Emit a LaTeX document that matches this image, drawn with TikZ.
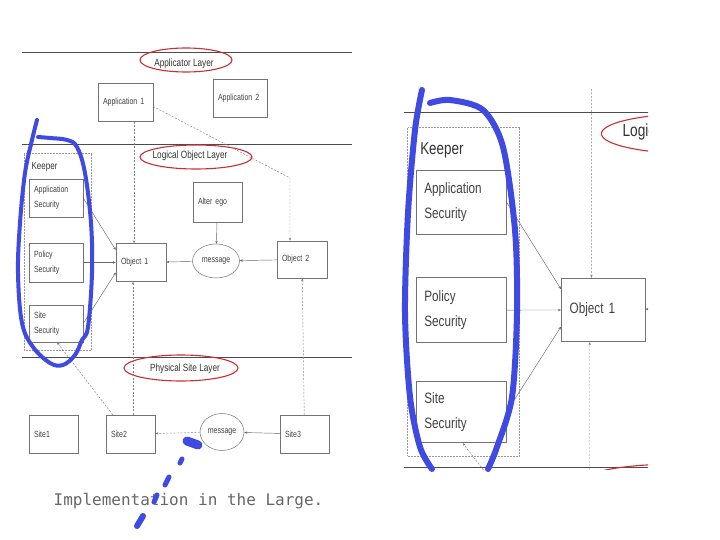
\documentclass[tikz,border=0pt]{standalone}
\usepackage{fontspec}
\setmainfont{Liberation Sans}
\newfontfamily\scanfont[FakeStretch=0.78]{Liberation Sans}
\newfontfamily\slidefont{DejaVu Sans Mono}
\usetikzlibrary{positioning,arrows.meta,shapes.geometric}
\definecolor{penblue}{RGB}{62,74,226}
\definecolor{penred}{RGB}{205,45,50}

\newcommand{\layerdiagram}{%
\draw[layerline] (22,52) -- (352,52);
\draw[layerline] (22,144) -- (352,144);
\draw[layerline] (22,357) -- (352,357);
\node[layertxt] (applayer) at (184,64) {Applicator Layer};
\node[layertxt] (objlayer) at (190,156) {Logical Object Layer};
\node[layertxt] (sitelayer) at (185,369) {Physical Site Layer};
\draw[ring] (186,60) ellipse [x radius=46pt,y radius=12pt];
\draw[ring] (196,157) ellipse [x radius=56pt,y radius=12pt];
\draw[ring] (181,368) ellipse [x radius=57pt,y radius=13pt];
\node[box,text width=45pt] (app1) at (125.5,102.5) {Application 1};
\node[box,text width=44pt] (app2) at (240,98.5) {Application 2};
\node[keeperbox,minimum width=67pt,minimum height=197pt] (keeper) at (57.5,251.5) {};
\node[layertxt,font=\scanfont\fontsize{10.3}{12}\selectfont,anchor=west] (keepertxt) at (28,167) {Keeper};
\node[box,text width=44pt] (appsec) at (56,198) {Application\\Security};
\node[box,text width=44pt,minimum height=39pt] (polsec) at (56,262.5) {Policy\\Security};
\node[box,text width=44pt,minimum height=37pt] (sitesec) at (56,323.5) {Site\\Security};
\node[box] (obj1) at (141,262.5) {Object 1};
\node[box,text width=39pt,minimum height=40pt] (alter) at (217.5,202) {Alter ego};
\node[msgbox,minimum width=47pt,minimum height=34pt] (msg1) at (216,261) {message};
\node[box,minimum height=37pt] (obj2) at (302,259.5) {Object 2};
\node[box,text width=39pt] (site1) at (53.5,434) {Site1};
\node[box,text width=39pt] (site2) at (130.5,434) {Site2};
\node[msgbox,minimum width=44pt,minimum height=37pt] (msg2) at (222,432) {message};
\node[box,text width=39pt] (site3) at (304.5,434) {Site3};
\coordinate (bend) at (290,178);
\draw[flow] (appsec.east) -- ([yshift=12.5pt]obj1.west);
\draw[flow] (polsec) -- (obj1);
\draw[flow] (sitesec.east) -- ([yshift=-10pt]obj1.west);
\draw[flow] (alter) -- (msg1);
\draw[flow] (msg1) -- (obj1);
\draw[flow] (obj2) -- (msg1);
\draw[flow] (site3) -- (msg2);
\draw[dep] (msg2) -- (site2);
\draw[dep] ([xshift=8.5pt]app1.south) -- ([xshift=-7pt]obj1.north);
\draw[dep] ([yshift=-4pt]app1.east) -- (bend) -- (bend |- obj2.north);
\draw[dep] ([xshift=2.5pt]site2.north) -- ([xshift=-8pt]obj1.south);
\draw[dep] (site3) -- (obj2);
\draw[dep] ([xshift=7pt]site2.north west) -- ([xshift=1pt]sitesec.south);
}

\begin{document}
\begin{tikzpicture}[x=1pt,y=-1pt,>={Stealth[length=3pt,width=2.4pt]},
  box/.style={draw=black!55,line width=0.5pt,minimum height=38pt,text width=40pt,inner xsep=5pt,align=left,font=\scanfont\fontsize{9}{15}\selectfont,text=black!75},
  msgbox/.style={ellipse,draw=black!55,line width=0.5pt,inner sep=0pt,font=\scanfont\fontsize{9}{11}\selectfont,text=black!75},
  keeperbox/.style={draw=black!40,densely dotted,line width=0.5pt},
  layerline/.style={draw=black!70,line width=0.9pt},
  layertxt/.style={font=\scanfont\fontsize{10.5}{12}\selectfont,text=black!80},
  ring/.style={draw=penred,line width=1.1pt},
  flow/.style={->,draw=black!60,line width=0.45pt},
  dep/.style={->,draw=black!50,line width=0.45pt,dash pattern=on 2pt off 1.5pt},
  pen/.style={draw=penblue,line width=4pt,line cap=round,line join=round}]
\useasboundingbox (0,0) rectangle (720,540);
\layerdiagram
\begin{scope}
\clip (404,90) rectangle (648,469);
\begin{scope}[shift={(367.6,-128.5)},scale=1.67,transform shape,name prefix=z-]
\layerdiagram
\end{scope}
\end{scope}
\node[font=\slidefont\fontsize{16}{18}\selectfont,text=black!60] (caption) at (188.5,501) {Implementation in the Large.};
\draw[pen] plot[smooth,tension=0.6] coordinates {(37,120) (32,140) (25,173) (20,223) (18,273) (22,323) (33,347) (50,363) (63,365) (75,355) (82,340) (88,327) (92,273) (91,223) (85,173) (77,147) (67,140) (50,138) (38,137)};
\draw[pen,line width=6pt] plot[smooth] coordinates {(422,90) (415,130) (408,213) (405,313) (410,397) (420,447) (432,469)};
\draw[pen,line width=6pt] plot[smooth] coordinates {(430,103) (450,100) (483,110) (503,147) (515,230) (517,313) (512,397) (497,447) (488,469)};
\draw[pen,line width=9pt] (187,441) -- (198,445);
\draw[pen,line width=5pt] (182,459) -- (180,463);
\draw[pen,line width=5pt] (169,477) -- (165,485);
\draw[pen,line width=5pt] (157,495) -- (154,502);
\draw[pen,line width=6pt] (143,516) -- (137,526);
\end{tikzpicture}
\end{document}
